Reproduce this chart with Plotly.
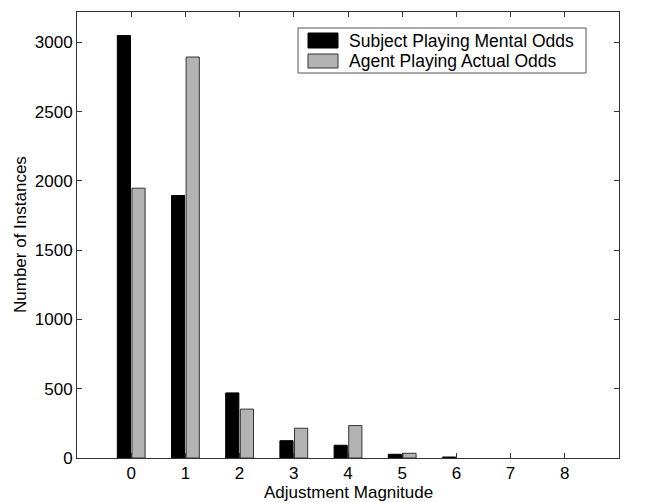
import plotly.graph_objects as go

categories = [0, 1, 2, 3, 4, 5, 6, 7, 8]
subject_mental = [3050, 1895, 470, 125, 92, 27, 7, 0, 0]
agent_actual = [1948, 2895, 353, 215, 234, 34, 0, 0, 0]
series_names = ["Subject Playing Mental Odds", "Agent Playing Actual Odds"]
y_ticks = [0, 500, 1000, 1500, 2000, 2500, 3000]

font_family = "Liberation Sans, Arial, Helvetica, sans-serif"
W, H = 646, 502
ML, MR, MT, MB = 77, 27, 12, 44
fill_colors = ["#000000", "#b3b3b3"]
edge_colors = ["#000000", "#333333"]


def edge_widths(values):
    return [1 if v > 0 else 0 for v in values]


def px_x(p):
    return (p - ML) / (W - ML - MR)


def px_y(p):
    return (H - MB - p) / (H - MT - MB)


fig = go.Figure()
for name, vals, fc, ec in zip(series_names, [subject_mental, agent_actual],
                              fill_colors, edge_colors):
    fig.add_trace(go.Bar(
        x=categories, y=vals, name=name,
        marker=dict(color=fc, line=dict(color=ec, width=edge_widths(vals))),
    ))

# Legend drawn as a MATLAB-style box with wide swatches
shapes = [dict(type="rect", xref="paper", yref="paper",
               x0=px_x(298), x1=px_x(586), y0=px_y(73), y1=px_y(28),
               line=dict(color="#555555", width=1), fillcolor="white", layer="above")]
annotations = []
rows = [(33, 48), (54, 68)]
for (top, bot), name, fc, ec in zip(rows, series_names, fill_colors, edge_colors):
    shapes.append(dict(type="rect", xref="paper", yref="paper",
                       x0=px_x(308), x1=px_x(338), y0=px_y(bot), y1=px_y(top),
                       line=dict(color=ec, width=1),
                       fillcolor=fc, layer="above"))
    annotations.append(dict(xref="paper", yref="paper", x=px_x(347),
                            y=px_y((top + bot) / 2), text=name, showarrow=False,
                            xanchor="left", yanchor="middle",
                            font=dict(size=17.5, family=font_family, color="black")))

# Axis titles placed as in the reference
annotations.append(dict(xref="paper", yref="paper", x=0.5, y=px_y(492),
                        text="Adjustment Magnitude", showarrow=False,
                        xanchor="center", yanchor="middle",
                        font=dict(size=17, family=font_family, color="black")))
annotations.append(dict(xref="paper", yref="paper", x=px_x(20), y=0.5,
                        text="Number of Instances", showarrow=False, textangle=-90,
                        xanchor="center", yanchor="middle",
                        font=dict(size=17, family=font_family, color="black")))

fig.update_layout(
    width=W, height=H,
    margin=dict(l=ML, r=MR, t=MT, b=MB),
    paper_bgcolor="white", plot_bgcolor="white",
    barmode="group", bargap=0.46, bargroupgap=0.1,
    font=dict(family=font_family, size=17, color="black"),
    showlegend=False,
    shapes=shapes, annotations=annotations,
    xaxis=dict(
        range=[-1, 9], tickvals=categories, ticktext=[str(c) for c in categories],
        ticks="inside", ticklen=5, tickcolor="#333333",
        showline=True, linecolor="#333333", linewidth=1, mirror="ticks",
        showgrid=False, zeroline=False, automargin=False,
    ),
    yaxis=dict(
        range=[0, 3220], tickvals=y_ticks, ticktext=[str(t) for t in y_ticks],
        ticks="inside", ticklen=5, tickcolor="#333333",
        showline=True, linecolor="#333333", linewidth=1, mirror="ticks",
        showgrid=False, zeroline=False, automargin=False,
    ),
)

fig.write_html("out.html")
